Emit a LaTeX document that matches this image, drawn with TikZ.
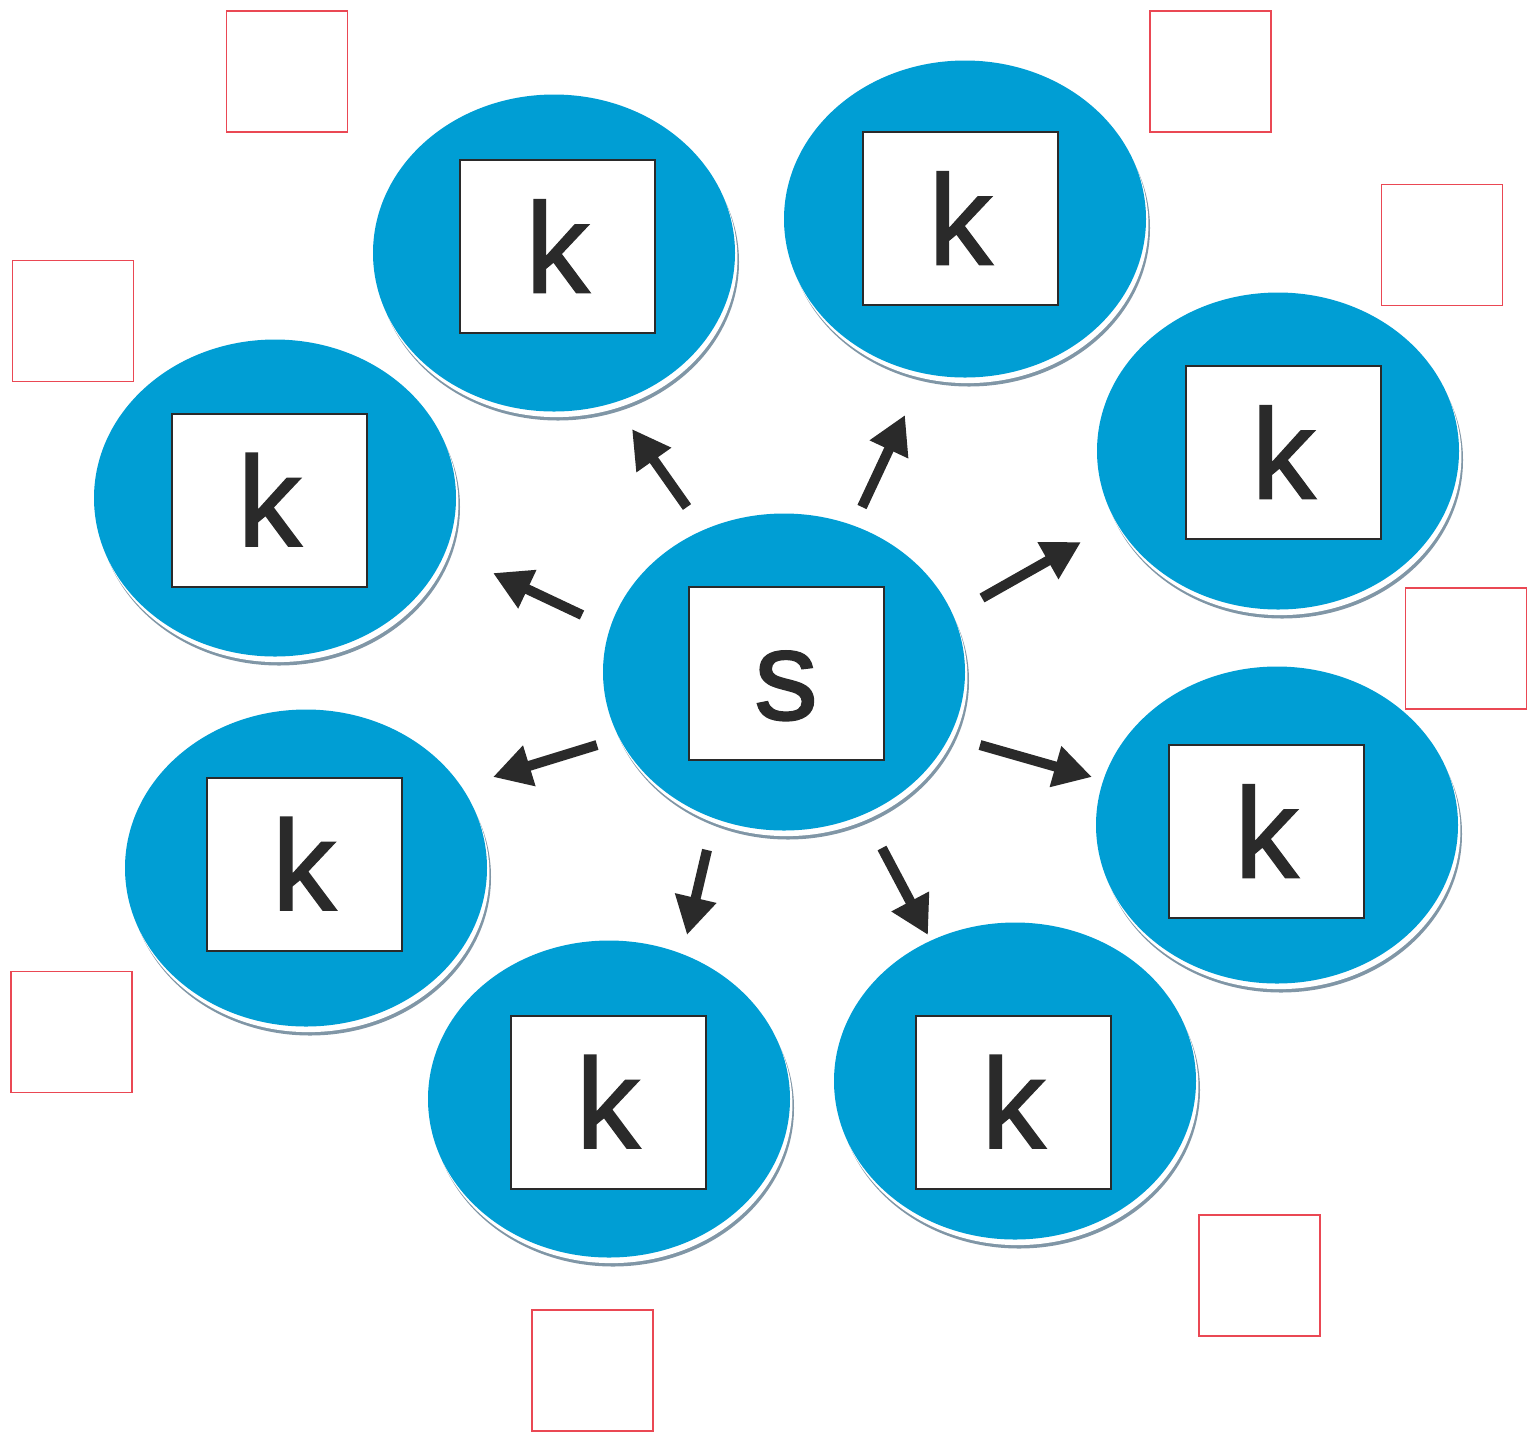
\documentclass[tikz,border=0pt]{standalone}
\usepackage{fontspec}
\setmainfont{Liberation Sans}
\newfontfamily\boxletterfont[FakeBold=1.3]{Liberation Sans}
\usetikzlibrary{shapes.geometric,arrows.meta,shadows}
\definecolor{skyb}{RGB}{0,158,212}
\definecolor{shadowgray}{RGB}{128,150,166}
\definecolor{redline}{RGB}{234,72,84}
\definecolor{ink}{RGB}{42,42,42}
\begin{document}
\begin{tikzpicture}[x=0.5pt,y=-0.5pt,
  blob/.style={ellipse, fill=skyb, inner sep=0pt, minimum width=181pt, minimum height=158.5pt,
    general shadow={fill=shadowgray, shadow xshift=2pt, shadow yshift=-4.5pt},
    general shadow={fill=white, shadow xshift=1.2pt, shadow yshift=-2.8pt}},
  letterbox/.style={rectangle, draw=ink, line width=1pt, fill=white, inner sep=0pt,
    minimum width=97.5pt, minimum height=86.5pt, text=ink,
    font=\boxletterfont\fontsize{64}{64}\selectfont, text height=46pt, text depth=0pt},
  redbox/.style={rectangle, draw=redline, line width=0.9pt, inner sep=0pt, minimum size=60.5pt},
  outarrow/.style={draw=ink, line width=5pt, -{Triangle[length=19pt,width=20pt]}}
]
\useasboundingbox (0,0) rectangle (1532,1432);

% red squares
\node[redbox] (r1) at (287,71.5) {};
\node[redbox] (r2) at (1210.5,71.5) {};
\node[redbox] (r3) at (1442,245) {};
\node[redbox] (r4) at (73,321) {};
\node[redbox] (r5) at (1466,648.5) {};
\node[redbox] (r6) at (71.5,1032) {};
\node[redbox] (r7) at (1259.5,1275.5) {};
\node[redbox] (r8) at (592.5,1370.5) {};

% ellipses
\node[blob] (e1) at (554,253) {};
\node[blob] (e2) at (965,219) {};
\node[blob] (e3) at (1278,451) {};
\node[blob] (e4) at (1277,825) {};
\node[blob] (e5) at (1015,1081) {};
\node[blob] (e6) at (609,1099) {};
\node[blob] (e7) at (306,868) {};
\node[blob] (e8) at (275,498) {};
\node[blob] (ec) at (784,672) {};

% letter boxes
\node[letterbox] (k1) at (557.5,246.5) {k};
\node[letterbox] (k2) at (960.5,218.5) {k};
\node[letterbox] (k3) at (1283.5,452.5) {k};
\node[letterbox] (k4) at (1266.5,831.5) {k};
\node[letterbox] (k5) at (1013.5,1102) {k};
\node[letterbox] (k6) at (608,1102) {k};
\node[letterbox] (k7) at (304,864) {k};
\node[letterbox] (k8) at (269.5,500) {k};
\node[letterbox] (sc) at (786,673.5) {s};

% arrow end points
\coordinate (a1s) at (687,507);  \coordinate (a1t) at (632,429);
\coordinate (a2s) at (862,507);  \coordinate (a2t) at (905,415);
\coordinate (a3s) at (982,598);  \coordinate (a3t) at (1081,542);
\coordinate (a4s) at (980,745);  \coordinate (a4t) at (1092,777);
\coordinate (a5s) at (882,848);  \coordinate (a5t) at (928,935);
\coordinate (a6s) at (707,850);  \coordinate (a6t) at (687,935);
\coordinate (a7s) at (597,745);  \coordinate (a7t) at (493,777);
\coordinate (a8s) at (582,615);  \coordinate (a8t) at (493,573);

\draw[outarrow] (a1s) -- (a1t);
\draw[outarrow] (a2s) -- (a2t);
\draw[outarrow] (a3s) -- (a3t);
\draw[outarrow] (a4s) -- (a4t);
\draw[outarrow] (a5s) -- (a5t);
\draw[outarrow] (a6s) -- (a6t);
\draw[outarrow] (a7s) -- (a7t);
\draw[outarrow] (a8s) -- (a8t);
\end{tikzpicture}
\end{document}
